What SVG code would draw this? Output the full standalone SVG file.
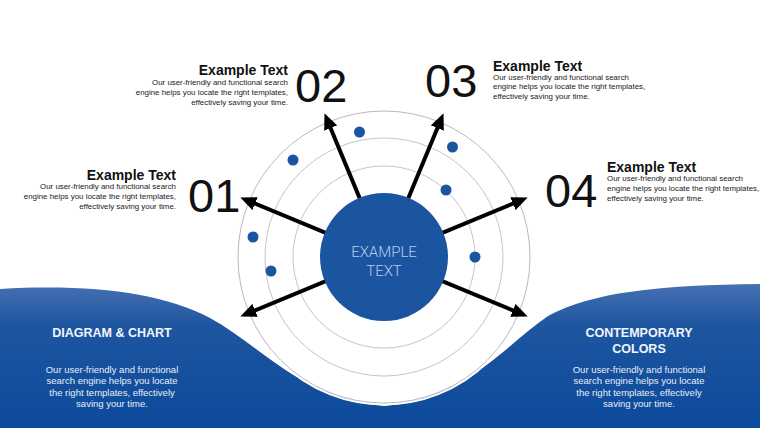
<svg xmlns="http://www.w3.org/2000/svg" width="760" height="428" viewBox="0 0 760 428">
<defs>
<linearGradient id="wave" x1="0" y1="284" x2="0" y2="428" gradientUnits="userSpaceOnUse">
<stop offset="0" stop-color="#4670b2"/>
<stop offset="0.3" stop-color="#1d559f"/>
<stop offset="1" stop-color="#0c4a9c"/>
</linearGradient>
<marker id="ah" viewBox="0 0 16 14" markerWidth="16" markerHeight="14" markerUnits="userSpaceOnUse" refX="10.5" refY="7" orient="auto">
<path d="M0,0 L16,7 L0,14 Z" fill="#000"/>
</marker>
<style>
.t{font-family:"Liberation Sans",Arial,sans-serif;font-weight:bold;font-size:14px;fill:#111}
.b{font-family:"Liberation Sans",Arial,sans-serif;font-size:7.9px;fill:#1a1a1a}
.n{font-family:"Liberation Sans",Arial,sans-serif;font-size:47px;fill:#111}
.wt{font-family:"Liberation Sans",Arial,sans-serif;font-weight:bold;font-size:12.5px;fill:#f2f6fc;text-anchor:middle}
.wb{font-family:"Liberation Sans",Arial,sans-serif;font-size:9.5px;fill:#e6edf8;text-anchor:middle}
.ring{fill:none;stroke:#c4c4cc;stroke-width:1}
.dot{fill:#1c559f}
.arr{stroke:#000;stroke-width:4;fill:none;marker-end:url(#ah)}
</style>
</defs>
<rect width="760" height="428" fill="#fff"/>
<path id="wave-band" d="M0,289 C90,284 160,292 210,318 C260,345 300,398 384,406 C468,398 505,345 548,316 C592,292 660,285 760,284 L760,428 L0,428 Z" fill="url(#wave)"/>
<g id="disk">
<circle cx="384" cy="257" r="147.5" fill="none" stroke="#ffffff" stroke-width="2"/>
<circle cx="384" cy="257" r="146" fill="#fff" stroke="#b8b8c0" stroke-width="1"/>
<circle class="ring" cx="384" cy="257" r="119"/>
<circle class="ring" cx="384" cy="257" r="91"/>
</g>
<g id="connectors">
<line class="arr" x1="337.8" y1="237.9" x2="245.4" y2="199.6"/>
<line class="arr" x1="364.9" y1="210.8" x2="326.6" y2="118.4"/>
<line class="arr" x1="403.1" y1="210.8" x2="441.4" y2="118.4"/>
<line class="arr" x1="430.2" y1="237.9" x2="522.6" y2="199.6"/>
<line class="arr" x1="337.8" y1="276.1" x2="245.4" y2="314.4"/>
<line class="arr" x1="430.2" y1="276.1" x2="522.6" y2="314.4"/>
</g>
<g id="dots">
<circle class="dot" cx="359.5" cy="132" r="5.5"/>
<circle class="dot" cx="293" cy="160" r="5.5"/>
<circle class="dot" cx="452.5" cy="147" r="5.5"/>
<circle class="dot" cx="446" cy="190" r="5.5"/>
<circle class="dot" cx="253" cy="237" r="5.5"/>
<circle class="dot" cx="271" cy="271" r="5.5"/>
<circle class="dot" cx="475" cy="257" r="5.5"/>
</g>
<g id="center">
<circle cx="384" cy="257" r="64" fill="#1c559f"/>
<text x="384" y="257" text-anchor="middle" font-family="Roboto,'Liberation Sans',sans-serif" font-weight="300" font-size="15" fill="#b3ccef">EXAMPLE</text>
<text x="384" y="276" text-anchor="middle" font-family="Roboto,'Liberation Sans',sans-serif" font-weight="300" font-size="15" fill="#b3ccef">TEXT</text>
</g>
<g id="item01">
<text class="n" x="188" y="212">01</text>
<text class="t" x="176" y="179.5" text-anchor="end">Example Text</text>
<text class="b" x="176" y="189.3" text-anchor="end">Our user-friendly and functional search</text>
<text class="b" x="176" y="199" text-anchor="end">engine helps you locate the right templates,</text>
<text class="b" x="176" y="208.7" text-anchor="end">effectively saving your time.</text>
</g>
<g id="item02">
<text class="n" x="295" y="102">02</text>
<text class="t" x="288" y="74.5" text-anchor="end">Example Text</text>
<text class="b" x="288" y="85.3" text-anchor="end">Our user-friendly and functional search</text>
<text class="b" x="288" y="95" text-anchor="end">engine helps you locate the right templates,</text>
<text class="b" x="288" y="104.5" text-anchor="end">effectively saving your time.</text>
</g>
<g id="item03">
<text class="n" x="425" y="97">03</text>
<text class="t" x="493" y="70.5">Example Text</text>
<text class="b" x="493" y="79.5">Our user-friendly and functional search</text>
<text class="b" x="493" y="89.2">engine helps you locate the right templates,</text>
<text class="b" x="493" y="98.8">effectively saving your time.</text>
</g>
<g id="item04">
<text class="n" x="545" y="207">04</text>
<text class="t" x="607" y="172">Example Text</text>
<text class="b" x="607" y="181.3">Our user-friendly and functional search</text>
<text class="b" x="607" y="191">engine helps you locate the right templates,</text>
<text class="b" x="607" y="200.7">effectively saving your time.</text>
</g>
<g id="bottom-left">
<text class="wt" x="112" y="337">DIAGRAM &amp; CHART</text>
<text class="wb" x="112" y="372.5">Our user-friendly and functional</text>
<text class="wb" x="112" y="384">search engine helps you locate</text>
<text class="wb" x="112" y="395.5">the right templates, effectively</text>
<text class="wb" x="112" y="407">saving your time.</text>
</g>
<g id="bottom-right">
<text class="wt" x="639" y="337">CONTEMPORARY</text>
<text class="wt" x="639" y="352.5">COLORS</text>
<text class="wb" x="639" y="372.5">Our user-friendly and functional</text>
<text class="wb" x="639" y="384">search engine helps you locate</text>
<text class="wb" x="639" y="395.5">the right templates, effectively</text>
<text class="wb" x="639" y="407">saving your time.</text>
</g>
</svg>
